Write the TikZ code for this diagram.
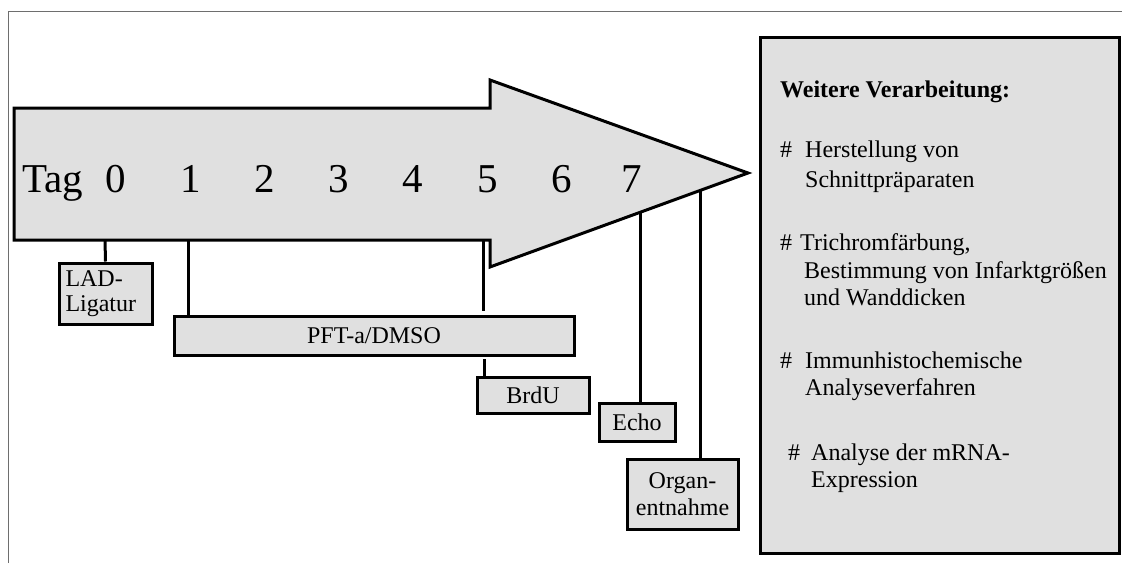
\documentclass[tikz,border=0pt]{standalone}
\usepackage{fontspec}
\setmainfont{Liberation Serif}
\definecolor{boxfill}{HTML}{E0E0E0}
\definecolor{framegray}{HTML}{6E6E6E}
\begin{document}
\begin{tikzpicture}[x=1pt,y=-1pt,
  box/.style={draw=black,line width=3pt,fill=boxfill,inner sep=0pt,align=center,font=\fontsize{24}{26}\selectfont},
  lbl/.style={inner sep=0pt,anchor=base west,font=\fontsize{24}{27}\selectfont},
  day/.style={inner sep=0pt,anchor=base,font=\fontsize{41}{41}\selectfont},
  conn/.style={line width=3pt}]
\useasboundingbox (0,0) rectangle (1122,563);
% partial outer frame
\draw[framegray,line width=1pt] (8,563) -- (8,11) -- (1122,11);
% timeline arrow
\draw[line width=3pt,fill=boxfill,line join=miter]
  (14,108) -- (490,108) -- (490,80) -- (748,173) -- (490,267) -- (490,240) -- (14,240) -- cycle;
\node[day,anchor=base west] (tag) at (22,192) {Tag};
\foreach \n/\x in {0/116,1/191,2/265,3/339,4/413,5/488,6/562,7/632}
  \node[day] (t\n) at (\x,192) {\n};
% anchor points on the arrow
\coordinate (a0) at (105,240);
\coordinate (a1) at (188,240);
\coordinate (a5) at (483,240);
\coordinate (a7) at (640,212);
\coordinate (a8) at (700,190);
% boxes
\node[box,align=left,minimum width=93pt,minimum height=61pt,text width=80pt] (lad) at (105.5,293.5) {LAD-\\[-1pt]Ligatur};
\node[box,minimum width=400pt,minimum height=39pt] (pft) at (374,335.5) {PFT-a/DMSO};
\node[box,minimum width=112pt,minimum height=36pt] (brdu) at (533,395) {BrdU};
\node[box,minimum width=76pt,minimum height=38pt] (echo) at (637,422) {Echo};
\node[box,minimum width=111pt,minimum height=70pt] (organ) at (682.5,494) {Organ-\\[1pt]entnahme};
\node[box,minimum width=359pt,minimum height=516pt] (panel) at (939.5,295) {};
% connectors
\draw[conn] (a0) -- (lad.north);
\draw[conn] (a1) -- (a1 |- pft.north);
\draw[conn,shorten >=4pt] (a5) -- (a5 |- pft.north);
\coordinate (b5) at (484,359);
\draw[conn] (b5) -- (b5 |- brdu.north);
\draw[conn] (a7) -- (a7 |- echo.north);
\draw[conn] (a8) -- (a8 |- organ.north);
% panel text
\node[lbl,font=\fontsize{24}{27}\bfseries] (p0) at (780,97) {Weitere Verarbeitung:};
\node[lbl] (h1) at (780,157) {\#};
\node[lbl] (p1a) at (805,157) {Herstellung von};
\node[lbl] (p1b) at (805,187) {Schnittpräparaten};
\node[lbl] (h2) at (780,250) {\#};
\node[lbl] (p2a) at (800,250) {Trichromfärbung,};
\node[lbl] (p2b) at (804,278) {Bestimmung von Infarktgrößen};
\node[lbl] (p2c) at (804,305) {und Wanddicken};
\node[lbl] (h3) at (780,368) {\#};
\node[lbl] (p3a) at (805,368) {Immunhistochemische};
\node[lbl] (p3b) at (805,395) {Analyseverfahren};
\node[lbl] (h4) at (788,460) {\#};
\node[lbl] (p4a) at (811,460) {Analyse der mRNA-};
\node[lbl] (p4b) at (811,487) {Expression};
\end{tikzpicture}
\end{document}
